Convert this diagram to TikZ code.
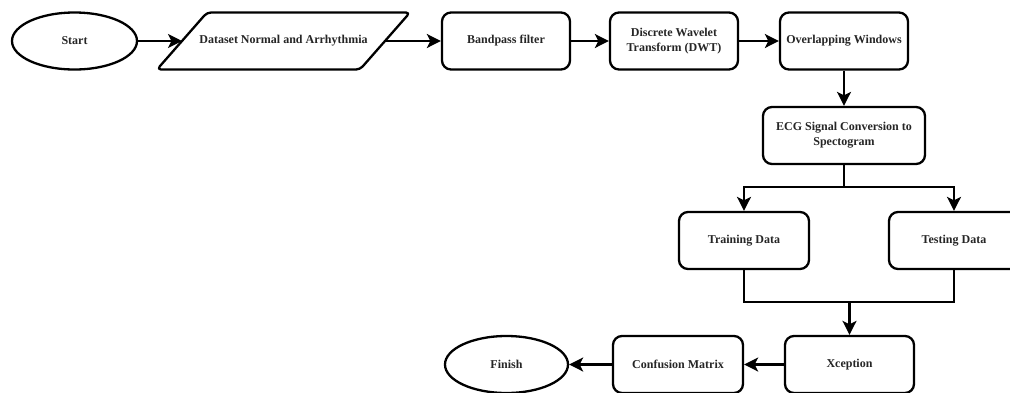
\documentclass[tikz,border=0pt]{standalone}
\usepackage{fontspec}
\setmainfont{Liberation Serif}
\usetikzlibrary{shapes.geometric,arrows.meta}
\begin{document}
\begin{tikzpicture}[x=1pt,y=-1pt,
  base/.style={draw=black, line width=2.3pt, font=\bfseries\fontsize{12}{15}\selectfont, text=black!85, align=center, inner sep=2pt},
  box/.style={base, rectangle, rounded corners=9pt, minimum width=#1, minimum height=57},
  box/.default=128,
  term/.style={base, ellipse, minimum width=#1, minimum height=57},
  lbl/.style={font=\bfseries\fontsize{12}{15}\selectfont, text=black!85, align=center},
  arr/.style={line width=2.3pt, -{Stealth[length=14pt,width=14pt,inset=3.5pt]}},
  ln/.style={line width=2.3pt}]
\useasboundingbox (0,0) rectangle (1010,392);
\clip (0,0) rectangle (1010,392);
\fill[white] (0,0) rectangle (1010,392);
% nodes
\node[term=125] (start) at (74.5,41) {Start};
\draw[ln, rounded corners=4pt, line join=round] (207,12.5) -- (410,12.5) -- (360,69.5) -- (157,69.5) -- cycle;
\node[lbl] (data) at (283.5,41) {Dataset Normal and Arrhythmia};
\coordinate (dataL) at (182,41);
\coordinate (dataR) at (385,41);
\node[box] (band) at (506,41) {Bandpass filter};
\node[box] (dwt) at (674,41) {Discrete Wavelet\\Transform (DWT)};
\node[box] (over) at (844,41) {Overlapping Windows};
\node[box=162] (ecg) at (844,135.5) {ECG Signal Conversion to\\Spectogram};
\node[box=130] (train) at (744,240.5) {Training Data};
\node[box=130] (test) at (954,240.5) {Testing Data};
\node[box=129] (xcep) at (849.5,364.5) {Xception};
\node[box=130] (conf) at (678,364.5) {Confusion Matrix};
\node[term=123] (fin) at (506.5,364.5) {Finish};
\coordinate (split) at (844,187);
\coordinate (mg) at (849.5,302);
% connectors
\draw[arr] (start) -- (dataL);
\draw[arr] (dataR) -- (band);
\draw[arr] (band) -- (dwt);
\draw[arr] (dwt) -- (over);
\draw[arr] (over) -- (ecg);
\draw[ln] (ecg.south) -- (split);
\draw[arr] (split) -| (train.north);
\draw[arr] (split) -| (test.north);
\draw[ln] (train.south) |- (mg) -| (test.south);
\draw[arr] (mg) -- (xcep);
\draw[arr] (xcep) -- (conf);
\draw[arr] (conf) -- (fin);
\end{tikzpicture}
\end{document}
